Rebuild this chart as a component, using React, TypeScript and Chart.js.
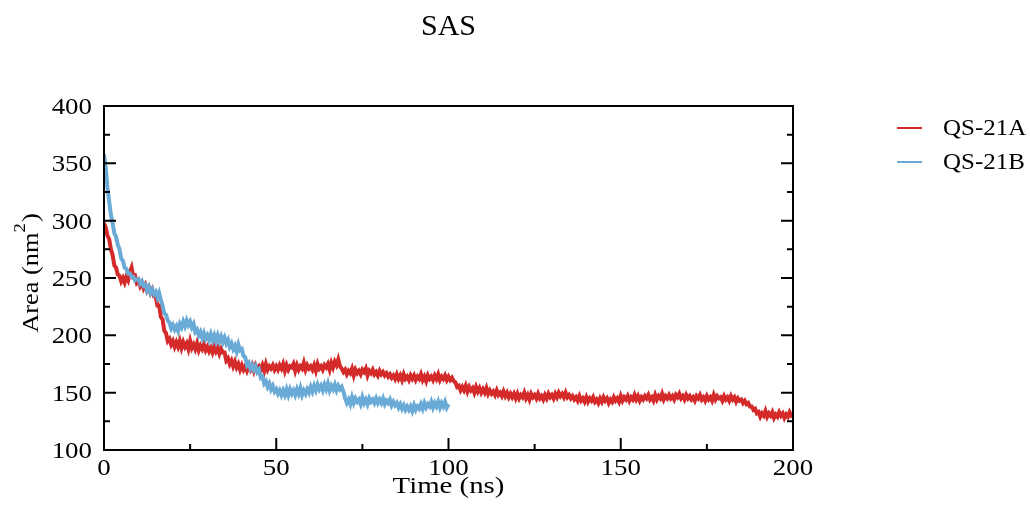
import React, { useEffect, useRef } from "react";
import { Chart, registerables } from "chart.js";

Chart.register(...registerables);

// ---- data (sampled every 0.5 ns) ----
const TIME_STEP_NS = 0.5;

const seriesA: number[] = [
  298,294,287,284,275,270,261,259,253,252,247,250,246,251,248,255,259,251,252,246,
  248,243,246,241,244,239,242,237,240,234,234,226,226,216,214,204,202,195,197,192,
  195,190,194,190,195,189,194,190,193,188,195,189,192,188,193,187,191,188,192,187,
  190,186,189,185,190,186,189,184,188,185,185,178,180,175,178,173,177,172,175,170,
  174,170,173,169,173,170,174,169,174,171,173,170,174,169,175,170,173,171,174,170,
  173,170,174,171,175,169,174,170,173,172,175,169,174,170,173,171,176,170,174,171,
  173,170,174,169,175,171,173,170,174,172,175,170,176,172,177,174,179,173,171,168,
  170,166,169,167,171,165,170,167,169,166,170,168,171,165,169,167,170,166,168,165,
  169,166,168,165,167,164,166,163,165,162,166,162,165,161,166,162,164,161,165,162,
  165,161,164,162,166,161,164,160,165,162,164,161,165,162,166,161,164,162,165,161,
  164,161,163,160,159,155,156,152,155,152,156,151,155,152,154,150,155,151,154,150,
  153,150,154,149,152,149,151,148,152,148,150,147,151,147,150,146,149,146,149,145,
  149,145,148,146,150,145,148,144,149,146,148,145,149,145,147,144,148,145,149,146,
  148,145,149,146,150,147,149,146,150,146,148,145,147,144,146,143,147,143,145,142,
  146,142,145,143,146,142,144,141,145,142,146,143,145,141,144,142,146,143,145,142,
  147,143,146,144,147,143,146,144,148,144,147,143,146,144,147,145,148,144,146,143,
  148,144,147,145,149,144,147,145,148,145,147,144,148,146,149,145,147,144,148,145,
  147,144,146,143,147,145,148,144,146,143,147,144,146,143,148,144,147,145,146,143,
  147,144,146,143,147,144,146,142,145,143,144,141,143,140,141,138,138,135,136,132,
  133,129,132,130,134,129,132,130,133,128,131,129,133,130,132,128,131,129,133,130,
  131,
];

const seriesB: number[] = [
  358,346,329,317,305,298,289,286,279,275,267,265,259,258,254,254,251,251,248,249,
  249,245,247,243,244,239,242,237,240,236,238,233,237,231,226,219,218,213,211,206,
  209,205,208,204,210,207,212,208,213,209,212,207,210,203,205,200,203,198,202,197,
  200,196,201,196,200,195,200,195,199,194,198,193,196,190,193,188,191,186,192,187,
  188,182,181,174,176,171,174,170,173,168,170,163,164,158,160,155,158,153,156,151,
  153,149,152,148,152,148,153,148,153,149,152,148,153,149,154,148,152,149,153,150,
  155,151,156,152,157,153,156,152,157,153,158,152,156,153,157,152,156,153,155,151,
  145,141,144,140,146,141,145,142,144,140,146,141,144,140,145,142,144,141,145,141,
  144,141,145,140,143,141,144,139,142,139,141,137,140,136,139,135,138,135,138,134,
  139,135,138,136,140,136,141,137,140,138,142,137,141,138,142,137,141,138,142,137,
  140,
];

const seriesLabels = ["QS-21A", "QS-21B"];
const xMajorTicks = [0, 50, 100, 150, 200];
const xMinorTicks = [25, 75, 125, 175];
const yMajorTicks = [100, 150, 200, 250, 300, 350, 400];
const yMinorTicks = [125, 175, 225, 275, 325, 375];

const RED = "#d42a2a";
const BLUE = "#6aaad6";
const FONT = '"Liberation Serif", "Times New Roman", serif';

function toPoints(arr: number[]) {
  return arr.map((y, i) => ({ x: i * TIME_STEP_NS, y }));
}

function txt(ctx: CanvasRenderingContext2D, s: string, x: number, y: number, align: CanvasTextAlign, size: number, sx: number) {
  ctx.save();
  ctx.translate(x, y);
  ctx.scale(sx, 1);
  ctx.font = `${size}px ${FONT}`;
  ctx.textAlign = align;
  ctx.textBaseline = "alphabetic";
  ctx.fillStyle = "#000";
  ctx.fillText(s, 0, 0);
  ctx.restore();
}

const decorPlugin = {
  id: "decor",
  beforeDraw(chart: any) {
    const ctx = chart.ctx;
    ctx.save();
    ctx.fillStyle = "#fff";
    ctx.fillRect(0, 0, chart.width, chart.height);
    ctx.restore();
  },
  afterDraw(chart: any) {
    const ctx: CanvasRenderingContext2D = chart.ctx;
    const { left, right, top, bottom } = chart.chartArea;
    const xs = chart.scales.x;
    const ys = chart.scales.y;
    ctx.save();
    ctx.strokeStyle = "#000";
    ctx.lineWidth = 2;
    ctx.strokeRect(left, top, right - left, bottom - top);
    ctx.beginPath();
    const major = 12, minor = 6;
    xMajorTicks.forEach((v) => { const x = xs.getPixelForValue(v); ctx.moveTo(x, bottom); ctx.lineTo(x, bottom - major); });
    xMinorTicks.forEach((v) => { const x = xs.getPixelForValue(v); ctx.moveTo(x, bottom); ctx.lineTo(x, bottom - minor); });
    yMajorTicks.forEach((v) => {
      const y = ys.getPixelForValue(v);
      ctx.moveTo(left, y); ctx.lineTo(left + major, y);
      ctx.moveTo(right, y); ctx.lineTo(right - major, y);
    });
    yMinorTicks.forEach((v) => {
      const y = ys.getPixelForValue(v);
      ctx.moveTo(left, y); ctx.lineTo(left + minor, y);
      ctx.moveTo(right, y); ctx.lineTo(right - minor, y);
    });
    ctx.stroke();

    // tick labels
    yMajorTicks.forEach((v) => txt(ctx, String(v), left - 12, ys.getPixelForValue(v) + 8, "right", 24, 1.12));
    xMajorTicks.forEach((v) => txt(ctx, String(v), xs.getPixelForValue(v), bottom + 25, "center", 24, 1.12));

    const cx = (left + right) / 2;
    const cy = (top + bottom) / 2;
    // title
    txt(ctx, "SAS", cx, 35, "center", 30, 1);
    // x title
    txt(ctx, "Time (ns)", cx, bottom + 43, "center", 24, 1.2);

    // y title rotated with superscript
    ctx.save();
    ctx.translate(38, cy - 5);
    ctx.rotate(-Math.PI / 2);
    ctx.scale(1.1, 1);
    ctx.fillStyle = "#000";
    ctx.textBaseline = "alphabetic";
    ctx.textAlign = "left";
    ctx.font = `24px ${FONT}`;
    const p1 = "Area (nm";
    const w1 = ctx.measureText(p1).width;
    const w3 = ctx.measureText(")").width;
    ctx.font = `17px ${FONT}`;
    const w2 = ctx.measureText("2").width;
    const total = w1 + w2 + w3 + 1;
    const sx0 = -total / 2;
    ctx.font = `24px ${FONT}`;
    ctx.fillText(p1, sx0, 0);
    ctx.font = `17px ${FONT}`;
    ctx.fillText("2", sx0 + w1, -13);
    ctx.font = `24px ${FONT}`;
    ctx.fillText(")", sx0 + w1 + w2 + 1, 0);
    ctx.restore();

    // legend
    const colors = [RED, BLUE];
    const rows = [128, 162];
    seriesLabels.forEach((lab, i) => {
      ctx.beginPath();
      ctx.strokeStyle = colors[i];
      ctx.lineWidth = 2;
      ctx.moveTo(897, rows[i]);
      ctx.lineTo(922, rows[i]);
      ctx.stroke();
      txt(ctx, lab, 943, rows[i] + 7, "left", 24, 1.04);
    });
    ctx.restore();
  },
};

export default function App() {
  const ref = useRef<HTMLCanvasElement>(null);
  useEffect(() => {
    const canvas = ref.current;
    if (!canvas) return;
    const chart = new Chart(canvas, {
      type: "line",
      data: {
        datasets: [
          {
            label: seriesLabels[0],
            data: toPoints(seriesA),
            borderColor: RED,
            backgroundColor: RED,
            borderWidth: 4,
            pointRadius: 0,
            tension: 0,
            order: 1,
          },
          {
            label: seriesLabels[1],
            data: toPoints(seriesB),
            borderColor: BLUE,
            backgroundColor: BLUE,
            borderWidth: 4,
            pointRadius: 0,
            tension: 0,
            order: 0,
          },
        ],
      },
      options: {
        responsive: false,
        animation: false,
        devicePixelRatio: 1,
        layout: { padding: { left: 104, right: 237, top: 106, bottom: 62 } },
        scales: {
          x: { type: "linear", min: 0, max: 200, display: false },
          y: { type: "linear", min: 100, max: 400, display: false },
        },
        plugins: {
          legend: { display: false },
          title: { display: false },
          tooltip: { enabled: false },
        },
        events: [],
      },
      plugins: [decorPlugin],
    });
    return () => chart.destroy();
  }, []);
  return (
    <div style={{ position: "absolute", left: 0, top: 0, width: 1030, height: 512 }}>
      <canvas ref={ref} width={1030} height={512} style={{ display: "block" }} />
    </div>
  );
}
